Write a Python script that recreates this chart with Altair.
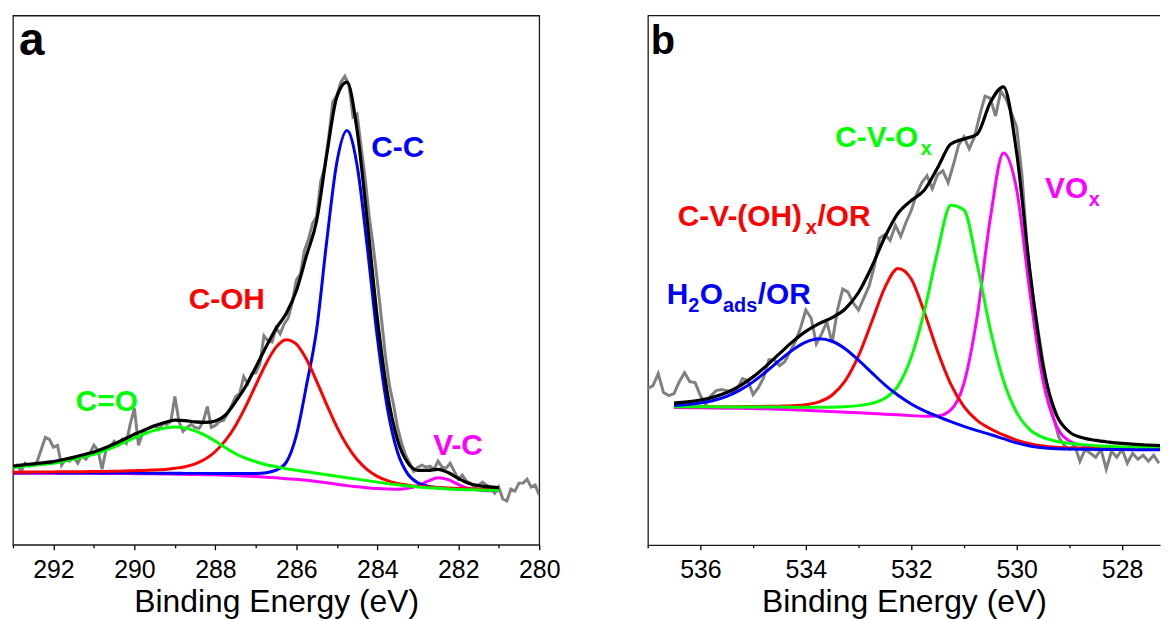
import altair as alt
import pandas as pd

FONT = "Liberation Sans"
GRAY = "#808080"
BLACK = "#000000"
BLUE = "#0000ff"
RED = "#ff0000"
GREEN = "#00ff00"
MAGENTA = "#ff00ff"

# ---------------- panel a : C 1s (fit grid 293.0 -> 281.0, step 0.25 eV) ----------------
a_fit_start, a_fit_step = 293.0, -0.25
a_vc = [72.0, 72.0, 72.0, 72.0, 72.0, 71.9, 71.9, 71.8, 71.8, 71.7,
        71.6, 71.6, 71.5, 71.4, 71.3, 71.1, 71.0, 70.8, 70.6, 70.5,
        70.3, 70.0, 69.6, 69.1, 68.6, 68.0, 67.3, 66.5, 65.8, 64.8,
        63.6, 62.3, 60.9, 59.5, 58.3, 57.35, 56.5, 56.0, 55.85, 56.7,
        59.3, 63.9, 67.3, 65.5, 60.7, 56.8, 55.05, 54.4, 54.2]
a_cc = [72.2, 72.3, 72.3, 72.3, 72.3, 72.2, 72.2, 72.2, 72.2, 72.1,
        72.1, 72.1, 72.1, 72.0, 72.0, 71.9, 71.9, 71.8, 71.8, 71.8,
        71.7, 71.7, 71.6, 71.6, 71.7, 72.4, 75.0, 82.9, 110.0, 160.1,
        215.9, 305.0, 384.2, 416.4, 381.6, 300.0, 208.7, 137.1, 93.0, 71.3,
        62.3, 58.9, 57.4, 56.7, 56.2, 55.8, 55.6, 55.3, 55.1]
a_coh = [73.0, 73.1, 73.1, 73.2, 73.3, 73.35, 73.5, 73.5, 73.7, 73.8,
         74.0, 74.2, 74.5, 74.8, 75.3, 75.8, 76.9, 78.5, 81.4, 86.2,
         93.8, 104.9, 120.0, 139.1, 160.7, 182.0, 198.7, 206.2, 201.8, 186.5,
         164.6, 140.9, 118.6, 100.0, 85.7, 75.6, 68.8, 64.5, 61.7, 60.0,
         58.8, 58.1, 57.5, 57.1, 56.7, 56.3, 56.1, 55.8, 55.65]
a_co = [78, 79, 80, 81, 82, 84, 86, 88.5, 91, 94.5,
        98.5, 103, 107.5, 111.5, 115, 117.5, 118.5, 117.5, 114.5, 110,
        104, 97.5, 91.5, 87, 83.5, 80.5, 78.5, 76.5, 75, 73.5,
        72, 70.5, 69, 67.5, 66, 64.5, 63, 61.5, 60.3, 59.2,
        58.2, 57.4, 56.8, 56.2, 55.7, 55.3, 55, 54.8, 54.6]
a_env = [79.2, 80.4, 81.4, 82.5, 83.6, 85.75, 87.9, 90.6, 93.3, 97.0,
         101.4, 106.1, 111.1, 115.5, 119.7, 123.0, 125.3, 124.8, 123.5, 123.0,
         124.5, 130.5, 143.9, 159.4, 178.7, 198.9, 217.6, 232.6, 255.4, 290.7,
         325.5, 392.0, 450.2, 465.1, 416.9, 325.7, 228.1, 152.0, 105.25, 82.5,
         74.8, 74.8, 75.8, 72.6, 66.7, 61.9, 59.45, 58.3, 57.55]
# raw spectrum 293.0 -> 280.0, step 0.1 eV
a_raw_start, a_raw_step = 293.0, -0.1
a_raw = [76, 80, 74, 82, 79, 80, 84, 96, 108, 106,
         98, 100, 80, 86, 84, 88, 82, 90, 86, 92,
         100, 95, 76, 96, 98, 104, 100, 106, 102, 122,
         137, 100, 112, 116, 118, 120, 116, 122, 121, 124,
         149, 124, 114, 118, 121, 118, 117, 124, 139, 118,
         120, 124, 125, 132, 140, 149, 152, 169, 162, 172,
         173, 182, 210, 205, 204, 218, 212, 222, 228, 244,
         266, 272, 296, 307, 323, 330, 365, 380, 410, 445,
         452, 465, 471, 462, 430, 433, 400, 368, 330, 300,
         265, 228, 190, 160, 141, 118, 102, 90, 82, 74,
         78, 80, 78, 79, 76, 84, 78, 77, 82, 74,
         66, 70, 64, 62, 58, 60, 63, 60, 58, 52,
         58, 46, 44, 56, 54, 62, 62, 66, 58, 60,
         50]
a_ticks = list(range(280, 294))
a_lab_t = ["C-C", "C-OH", "C=O", "V-C"]
a_lab_e = [284.15, 288.66, 291.45, 282.62]
a_lab_i = [390, 237, 134.6, 90]
a_lab_c = [BLUE, RED, GREEN, MAGENTA]

# ---------------- panel b : O 1s (fit grid 536.5 -> 527.25, step 0.25 eV) ----------------
b_fit_start, b_fit_step = 536.5, -0.25
b_vox = [137.95, 137.77, 137.69, 137.52, 137.35, 137.18, 136.92, 136.67, 136.33, 135.79,
         135.17, 134.57, 133.89, 133.33, 132.72, 132.06, 131.29, 130.62, 129.84, 129.2,
         129.5, 135.6, 162.3, 229.1, 328.1, 393.9, 357.1, 254.1, 165.3, 120.0,
         104.4, 100.0, 98.5, 97.75, 97.14, 96.78, 96.51, 96.3]
b_cvox = [138.8, 138.7, 138.7, 138.7, 138.6, 138.6, 138.6, 138.55, 138.5, 138.3,
          138.2, 138.2, 138.3, 138.85, 139.9, 142.1, 147.2, 159.8, 188.5, 235.0,
          294.8, 341.3, 336.6, 282.1, 216.7, 165.2, 133.1, 115.7, 107.9, 104.1,
          102.0, 100.7, 99.65, 98.96, 98.32, 97.89, 97.54, 97.26]
b_cvoh = [138.8, 138.7, 138.8, 138.8, 138.8, 138.9, 139.0, 139.2, 139.4, 139.8,
          140.8, 143.7, 150.6, 165.1, 189.9, 223.9, 258.6, 277.8, 267.2, 233.6,
          194.5, 161.5, 138.9, 125.1, 116.7, 110.4, 105.2, 101.5, 99.25, 98.0,
          97.4, 97.1, 96.75, 96.6, 96.3, 96.2, 96.1, 96.0]
b_h2o = [140.1, 140.9, 142.5, 145.1, 149.3, 155.5, 163.8, 174.1, 185.3, 195.9,
         203.8, 207.2, 204.6, 196.9, 185.6, 173.1, 160.8, 150.3, 141.6, 134.7,
         129.1, 123.8, 119.1, 114.8, 110.9, 106.65, 102.45, 99.3, 97.5, 96.6,
         96.2, 96.1, 95.9, 95.85, 95.7, 95.66, 95.63, 95.6]
b_env = [142.5, 143.6, 145.5, 148.45, 153.1, 159.8, 168.8, 179.9, 192.1, 204.2,
         214.5, 222.25, 228.4, 237.3, 253.6, 279.4, 309.4, 333.3, 346.1, 356.6,
         378.9, 402.8, 408.0, 412.7, 444.5, 460.25, 394.0, 275.7, 180.15, 131.3,
         113.55, 107.6, 104.9, 103.2, 101.9, 100.9, 100.2, 99.6]
# raw spectrum 537.0 -> 527.3, step 0.1 eV
b_raw_start, b_raw_step = 537.0, -0.1
b_raw = [157, 160, 172, 153, 150, 152, 164, 173, 164, 163,
         150, 141, 150, 155, 156, 155, 154, 157, 167, 165,
         151, 158, 168, 186, 186, 180, 184, 194, 204, 218,
         236, 228, 202, 212, 224, 203, 236, 257, 254, 243,
         236, 248, 260, 280, 308, 312, 306, 321, 310, 324,
         336, 352, 364, 371, 358, 372, 376, 364, 382, 402,
         410, 398, 410, 432, 451, 449, 431, 456, 448, 434,
         420, 372, 298, 252, 218, 184, 154, 128, 108, 100,
         96, 100, 84, 96, 92, 88, 96, 76, 94, 88,
         96, 82, 92, 86, 90, 84, 90, 82]
b_ticks = list(range(528, 538))
b_lab_t = ["C-V-O", "VO", "C-V-(OH)", "/OR", "H", "O", "/OR"]
b_lab_e = [533.44, 529.46, 536.43, 533.78, 536.64, 536.01, 534.91]
b_lab_i = [400, 348.6, 320, 320, 242, 242, 242]
b_lab_c = [GREEN, MAGENTA, RED, RED, BLUE, BLUE, BLUE]
b_sub_t = ["x", "x", "x", "2", "ads"]
b_sub_e = [531.82, 528.63, 534.0, 536.23, 535.57]
b_sub_i = [392, 340.7, 312, 234, 234]
b_sub_c = [GREEN, MAGENTA, RED, BLUE, BLUE]


def frame(start, step, vals):
    return pd.DataFrame({"E": [round(start + step * i, 3) for i in range(len(vals))], "I": vals})


def labels(ts, es, is_, cs):
    return pd.DataFrame({"t": ts, "E": es, "I": is_, "c": cs})


H = 532


def panel(xdom, width, ticks, fit_start, fit_step, fits, raw_start, raw_step, raw,
          lab, sub, letter, letter_size, letter_x, letter_y, boxed):
    xaxis = alt.Axis(values=ticks,
                     labelExpr="datum.value % 2 === 0 ? datum.label : ''",
                     tickSize={"condition": {"test": "datum.value % 2 === 0", "value": 5}, "value": 3},
                     domain=not boxed, labelFlush=False, labelOverlap=False, grid=False,
                     title="Binding Energy (eV)")
    x = alt.X("E:Q", scale=alt.Scale(domain=xdom, reverse=True, nice=False, zero=False), axis=xaxis)
    yscale = alt.Scale(domain=[0, H], nice=False, zero=False)
    if boxed:
        y = alt.Y("I:Q", scale=yscale, axis=None)
    else:
        y = alt.Y("I:Q", scale=yscale,
                  axis=alt.Axis(labels=False, ticks=False, domain=True, grid=False, title=None))
    layers = [alt.Chart(frame(raw_start, raw_step, raw)).mark_line(
        color=GRAY, strokeWidth=3.0, clip=True).encode(x=x, y=y)]
    for vals, color, w in fits:
        layers.append(alt.Chart(frame(fit_start, fit_step, vals)).mark_line(
            color=color, strokeWidth=w, interpolate="monotone", clip=True).encode(x=x, y=y))
    layers.append(alt.Chart(lab).mark_text(
        font=FONT, fontSize=30, fontWeight="bold", align="left", baseline="alphabetic").encode(
        x=x, y=y, text="t:N", color=alt.Color("c:N", scale=None)))
    if sub is not None:
        layers.append(alt.Chart(sub).mark_text(
            font=FONT, fontSize=20, fontWeight="bold", align="left", baseline="alphabetic").encode(
            x=x, y=y, text="t:N", color=alt.Color("c:N", scale=None)))
    layers.append(alt.Chart(pd.DataFrame({"t": [letter]})).mark_text(
        font=FONT, fontSize=letter_size, fontWeight="bold", align="left", baseline="alphabetic",
        color=BLACK).encode(text="t:N", x=alt.value(letter_x), y=alt.value(letter_y)))
    if not boxed:
        layers.append(alt.Chart(pd.DataFrame({"t": [0]})).mark_rule(
            color="#1a1a1a", strokeWidth=1.3).encode(
            x=alt.value(0), x2=alt.value(width), y=alt.value(0)))
        view = alt.ViewBackground(stroke="transparent")
    else:
        view = alt.ViewBackground(stroke="#1a1a1a", strokeWidth=1.3)
    return alt.layer(*layers).properties(width=width, height=H, view=view)


panel_a = panel([280, 293], 529, a_ticks, a_fit_start, a_fit_step,
                [(a_vc, MAGENTA, 3.0), (a_cc, BLUE, 3.0), (a_coh, RED, 3.0),
                 (a_co, GREEN, 3.0), (a_env, BLACK, 3.2)],
                a_raw_start, a_raw_step, a_raw,
                labels(a_lab_t, a_lab_e, a_lab_i, a_lab_c), None,
                "a", 46, 6, 40, True)

panel_b = panel([527.28, 537], 515, b_ticks, b_fit_start, b_fit_step,
                [(b_vox, MAGENTA, 3.0), (b_cvoh, RED, 3.0), (b_cvox, GREEN, 3.0),
                 (b_h2o, BLUE, 3.0), (b_env, BLACK, 3.2)],
                b_raw_start, b_raw_step, b_raw,
                labels(b_lab_t, b_lab_e, b_lab_i, b_lab_c),
                labels(b_sub_t, b_sub_e, b_sub_i, b_sub_c),
                "b", 40, 3, 39, False)

chart = alt.hconcat(panel_a, panel_b, spacing=85).properties(
    padding={"left": 3, "top": 4, "right": 0, "bottom": 0}
).configure(font=FONT).configure_axis(
    labelFont=FONT, labelFontSize=25, labelColor=BLACK, labelPadding=8,
    titleFont=FONT, titleFontSize=32, titleFontWeight="normal", titleColor=BLACK, titlePadding=4,
    tickColor=BLACK, tickWidth=1.3, domainColor="#1a1a1a", domainWidth=1.3, grid=False
)

chart.save("out.html", embed_options={"renderer": "svg", "actions": False})
